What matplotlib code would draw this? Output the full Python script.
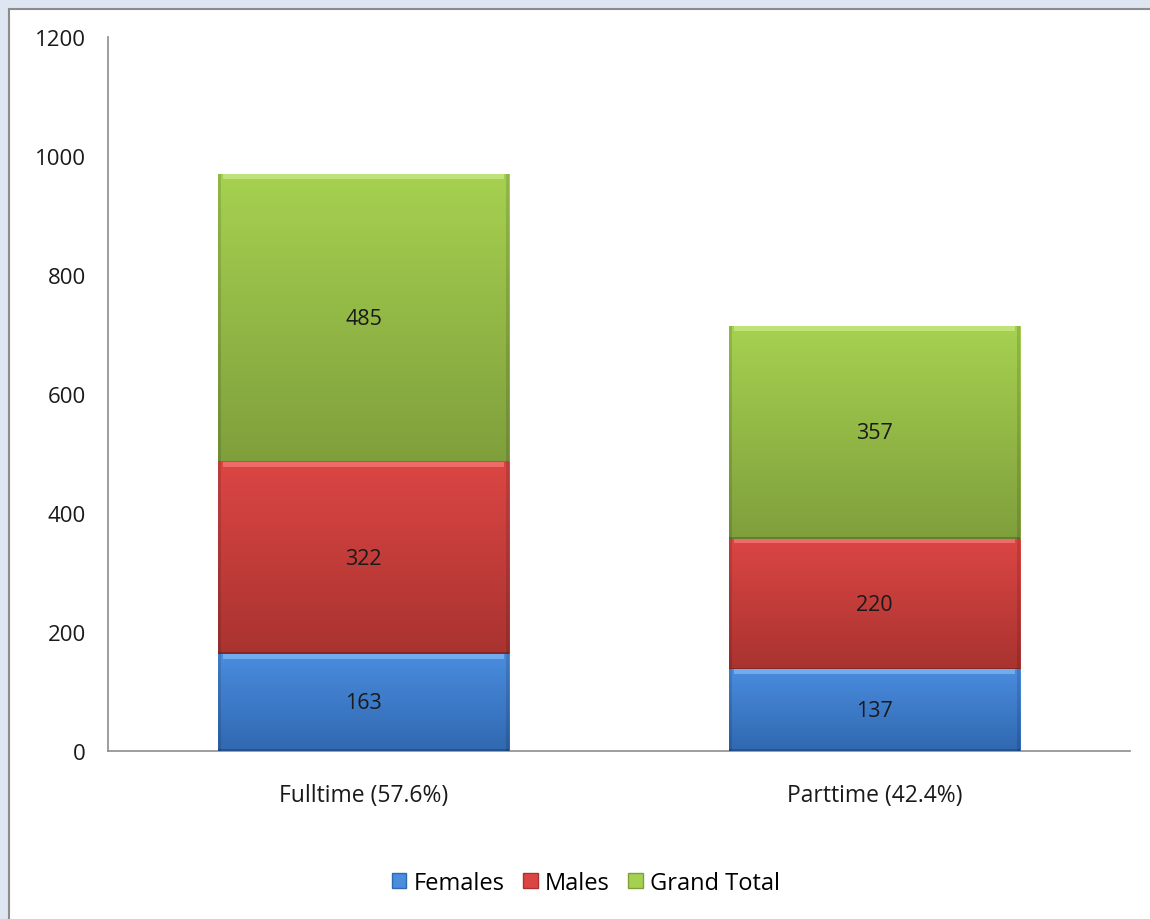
import numpy as np
import matplotlib.pyplot as plt
from matplotlib.patches import Rectangle, Patch
from matplotlib.colors import LinearSegmentedColormap

categories = ['Fulltime (57.6%)', 'Parttime (42.4%)']
series = ['Females', 'Males', 'Grand Total']
females = [163, 137]
males = [322, 220]
grand_total = [485, 357]
values = [females, males, grand_total]

# top colour, bottom colour, bevel highlight
shades = [('#4a8cde', '#3068b0', '#7fb8f5'),
          ('#db4644', '#a93330', '#f47a78'),
          ('#a6d150', '#7f9f3c', '#c9ea86')]

plt.rcParams['font.family'] = ['Open Sans', 'DejaVu Sans']

fig = plt.figure(figsize=(11.5, 9.2), dpi=100)
fig.patch.set_facecolor('#dde6f1')
fig.patches.append(Rectangle((9 / 1150, -0.01), 1.01, 1 - 10 / 920 + 0.01,
                             transform=fig.transFigure, facecolor='white',
                             edgecolor='#8c8c8c', linewidth=1.5, zorder=-10))

ax = fig.add_axes([108 / 1150, 1 - 752 / 920, 1022 / 1150, 714 / 920])
ax.set_facecolor('none')

x = np.arange(len(categories))
width = 0.57
bottom = np.zeros(len(categories))
grad = np.linspace(0, 1, 256).reshape(-1, 1)

for vals, name, (top_c, bot_c, hi_c) in zip(values, series, shades):
    bars = ax.bar(x, vals, width, bottom=bottom, color=top_c, label=name,
                  edgecolor='none', zorder=2)
    cmap = LinearSegmentedColormap.from_list(name, [bot_c, top_c])
    for bar, v, b in zip(bars, vals, bottom):
        x0 = bar.get_x()
        im = ax.imshow(grad, cmap=cmap, aspect='auto', origin='lower',
                       extent=(x0, x0 + width, b, b + v), zorder=3)
        im.set_clip_path(bar)
        # bevel: light strip on top, dark line at bottom and sides
        ax.add_patch(Rectangle((x0 + 0.01, b + v - 8), width - 0.02, 8,
                               facecolor=hi_c, edgecolor='none', alpha=0.75, zorder=4))
        ax.add_patch(Rectangle((x0, b), width, 3, facecolor='black',
                               edgecolor='none', alpha=0.2, zorder=4))
        ax.add_patch(Rectangle((x0, b), 0.006, v, facecolor='black',
                               edgecolor='none', alpha=0.12, zorder=4))
        ax.add_patch(Rectangle((x0 + width - 0.006, b), 0.006, v, facecolor='black',
                               edgecolor='none', alpha=0.12, zorder=4))
        ax.text(bar.get_x() + width / 2, b + v / 2, str(v), ha='center',
                va='center', fontsize=15.5, color='#1a1a1a', zorder=5)
    bottom += np.array(vals)

ax.set_xlim(-0.5, 1.5)
ax.set_ylim(0, 1200)
ax.set_yticks(range(0, 1201, 200))
ax.set_xticks(x)
ax.set_xticklabels(categories)
ax.tick_params(axis='y', length=0, pad=16, labelsize=16, labelcolor='#1a1a1a')
ax.tick_params(axis='x', length=0, pad=23, labelsize=16.5, labelcolor='#1a1a1a')
for s in ['top', 'right']:
    ax.spines[s].set_visible(False)
for s in ['left', 'bottom']:
    ax.spines[s].set_color('#8c8c8c')
    ax.spines[s].set_linewidth(1.2)

handles = [Patch(facecolor=c[0], edgecolor=c[1]) for c in shades]
fig.legend(handles, series, loc='center', bbox_to_anchor=(586 / 1150, 1 - 884 / 920),
           ncol=3, frameon=False, fontsize=17, handlelength=0.6, handleheight=0.6,
           handletextpad=0.3, columnspacing=0.8)

fig.savefig('out.png', dpi=100, facecolor=fig.get_facecolor())
